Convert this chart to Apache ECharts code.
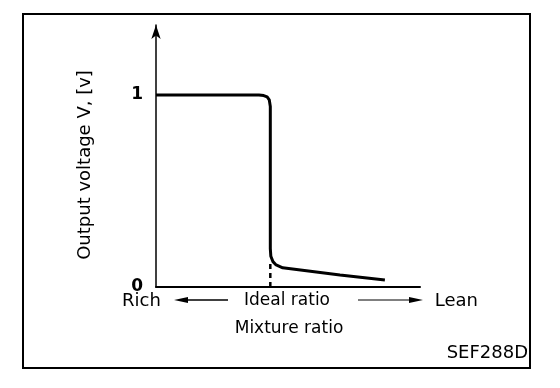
<!DOCTYPE html>
<html><head><meta charset="utf-8">
<script src="https://cdn.jsdelivr.net/npm/echarts@6/dist/echarts.min.js"></script>
<style>html,body{margin:0;padding:0;background:#fff}#c{width:560px;height:388px}</style>
</head><body><div id="c"></div>
<script>
// Mixture ratio position (0 = rich end, 100 = lean end of the axis)
const mixture = [0, 39, 40.8, 42.1, 42.9, 43.3, 43.3, 43.5, 44.3, 45.5, 48, 69.7, 86.7];
// Output voltage [V]
const voltage = [1, 1, 0.997, 0.99, 0.975, 0.94, 0.2, 0.16, 0.132, 0.115, 0.1, 0.0625, 0.036];
// Ideal ratio marker
const idealX = [43.3, 43.3];
const idealY = [0, 0.13];
const yTickLabels = [0, 1];
const yTitle = 'Output voltage V, [v]';
const xTitle = 'Mixture ratio';
const xLeft = 'Rich', xMid = 'Ideal ratio', xRight = 'Lean';
const figId = 'SEF288D';

const chart = echarts.init(document.getElementById('c'), null, {renderer: 'canvas'});
const font = 'DejaVu Sans';
const txt = (o) => Object.assign({fill: '#000', fontFamily: font, fontSize: 17}, o);
chart.setOption({
  animation: false,
  backgroundColor: '#fff',
  grid: {left: 156, right: 140, top: 25, bottom: 101},
  xAxis: {
    type: 'value', min: 0, max: 100,
    axisLine: {show: true, lineStyle: {color: '#000', width: 2}},
    axisTick: {show: false}, axisLabel: {show: false}, splitLine: {show: false}
  },
  yAxis: {
    type: 'value', min: 0, max: 262 / 192,
    axisLine: {show: true, symbol: ['none', 'arrow'], symbolSize: [7, 14], lineStyle: {color: '#000', width: 1.5}},
    axisTick: {show: false}, splitLine: {show: false},
    axisLabel: {customValues: yTickLabels, color: '#000', fontFamily: font, fontSize: 17, fontWeight: 'bold', margin: 13, padding: [0, 0, 10, 0]}
  },
  series: [
    {type: 'line', data: mixture.map((x, i) => [x, voltage[i]]), showSymbol: false,
     lineStyle: {color: '#000', width: 3}},
    {type: 'line', data: idealX.map((x, i) => [x, idealY[i]]), showSymbol: false,
     lineStyle: {color: '#000', width: 2.5, type: [5, 4]}}
  ],
  graphic: [
    {type: 'rect', shape: {x: 23, y: 14, width: 507, height: 354}, style: {fill: 'none', stroke: '#000', lineWidth: 2}, z: 10},
    {type: 'text', x: 85, y: 165, rotation: Math.PI / 2, style: txt({text: yTitle, fontSize: 18, align: 'center', verticalAlign: 'middle'})},
    {type: 'text', x: 122, y: 301, style: txt({text: xLeft, fontSize: 18, align: 'left', verticalAlign: 'middle'})},
    {type: 'text', x: 287, y: 301, style: txt({text: xMid, align: 'center', verticalAlign: 'middle'})},
    {type: 'text', x: 478, y: 301, style: txt({text: xRight, fontSize: 18, align: 'right', verticalAlign: 'middle'})},
    {type: 'text', x: 289, y: 329, style: txt({text: xTitle, align: 'center', verticalAlign: 'middle'})},
    {type: 'text', x: 528, y: 353, style: txt({text: figId, fontSize: 18, align: 'right', verticalAlign: 'middle'})},
    // arrows
    {type: 'line', shape: {x1: 180, y1: 300, x2: 228, y2: 300}, style: {stroke: '#000', lineWidth: 1.5}},
    {type: 'polygon', shape: {points: [[174, 300], [188, 297], [188, 303]]}, style: {fill: '#000'}},
    {type: 'line', shape: {x1: 358, y1: 300, x2: 416, y2: 300}, style: {stroke: '#000', lineWidth: 1}},
    {type: 'polygon', shape: {points: [[423, 300], [409, 297], [409, 303]]}, style: {fill: '#000'}}
  ]
});
</script></body></html>
